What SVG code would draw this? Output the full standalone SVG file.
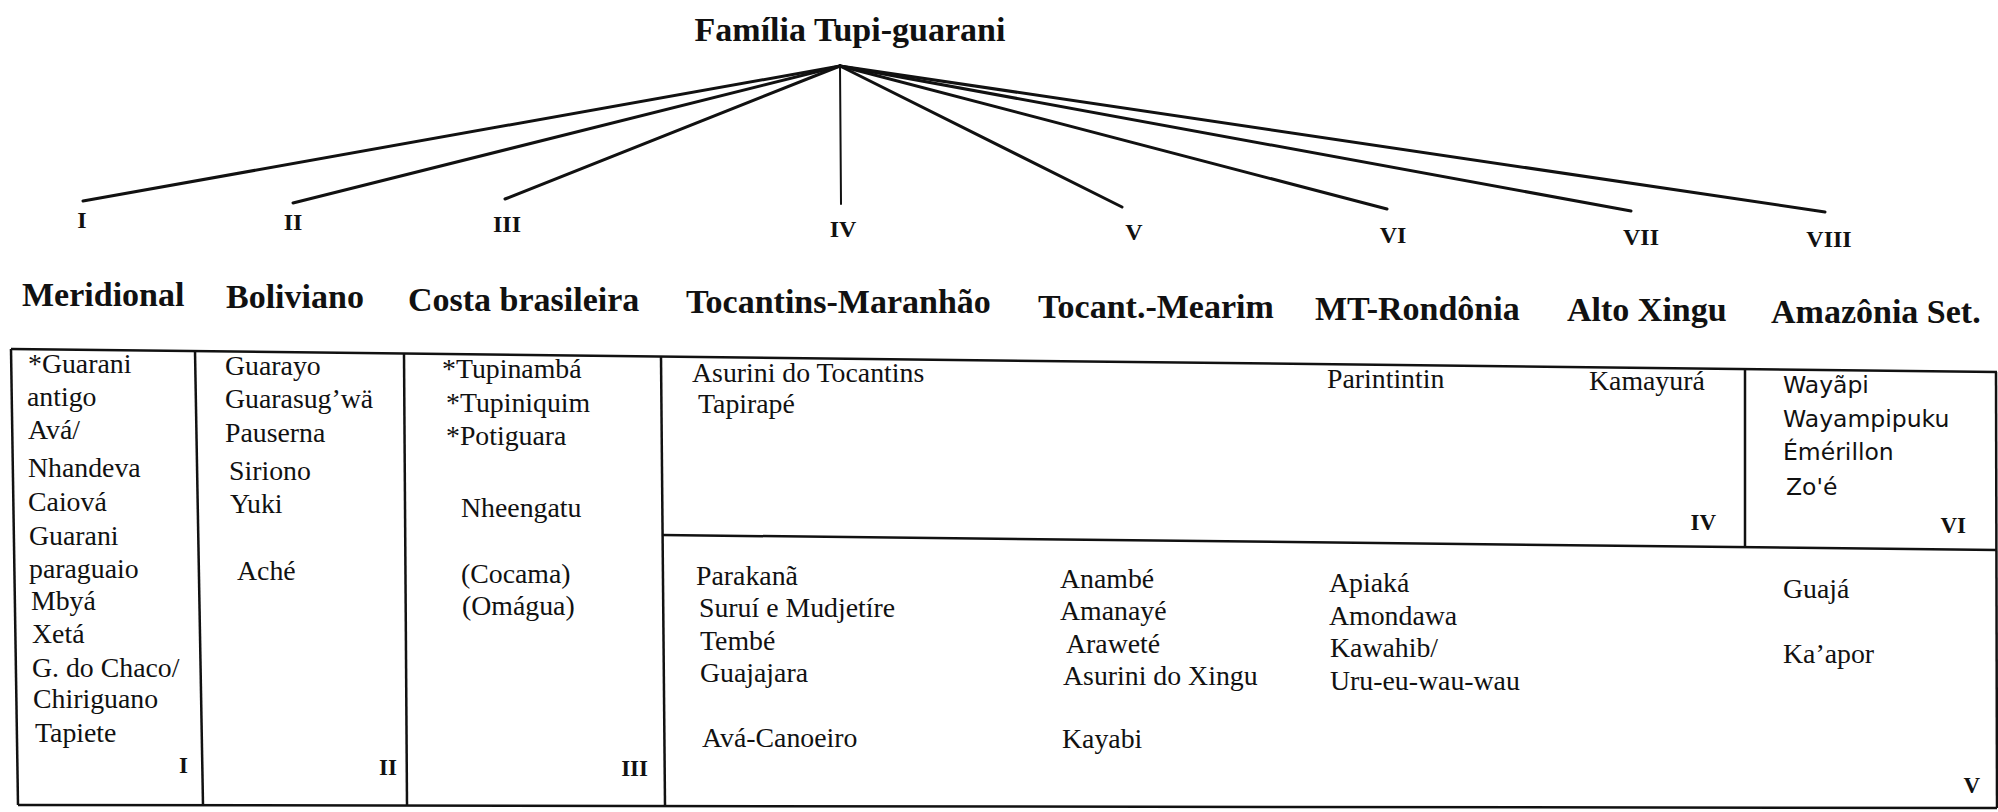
<svg xmlns="http://www.w3.org/2000/svg" width="1998" height="812" viewBox="0 0 1998 812">
<style>
text { font-family: "Liberation Serif", "Times New Roman", serif; fill: #111; }
.title { font-size: 34px; font-weight: bold; text-anchor: middle; }
.num { font-size: 24px; font-weight: bold; text-anchor: middle; }
.hdr { font-size: 34px; font-weight: bold; }
.t { font-size: 27.8px; }
.s { font-family: "DejaVu Sans", "Liberation Sans", sans-serif; font-size: 23.5px; }
.tn { font-size: 23px; font-weight: bold; text-anchor: end; }
.edge { stroke: #111; stroke-width: 3; fill: none; stroke-linecap: round; }
.grid { stroke: #111; stroke-width: 2.5; fill: none; }
</style>
<rect width="1998" height="812" fill="#ffffff"/>

<g id="root">
  <text class="title" x="850" y="41">Família Tupi-guarani</text>
</g>

<g id="connectors">
  <line class="edge" x1="840" y1="66" x2="83" y2="201"/>
  <line class="edge" x1="840" y1="66" x2="293" y2="203"/>
  <line class="edge" x1="840" y1="66" x2="505" y2="199"/>
  <line class="edge" x1="840" y1="66" x2="841" y2="204" style="stroke-width:2"/>
  <line class="edge" x1="840" y1="66" x2="1122" y2="207"/>
  <line class="edge" x1="840" y1="66" x2="1387" y2="209"/>
  <line class="edge" x1="840" y1="66" x2="1631" y2="211"/>
  <line class="edge" x1="840" y1="66" x2="1825" y2="212"/>
</g>

<g id="branch-I"><text class="num" x="82" y="228">I</text><text class="hdr" x="22" y="306">Meridional</text></g>
<g id="branch-II"><text class="num" x="293" y="230">II</text><text class="hdr" x="226" y="308">Boliviano</text></g>
<g id="branch-III"><text class="num" x="507" y="232">III</text><text class="hdr" x="408" y="311">Costa brasileira</text></g>
<g id="branch-IV"><text class="num" x="843" y="237">IV</text><text class="hdr" x="686" y="313">Tocantins-Maranhão</text></g>
<g id="branch-V"><text class="num" x="1134" y="240">V</text><text class="hdr" x="1038" y="318">Tocant.-Mearim</text></g>
<g id="branch-VI"><text class="num" x="1393" y="243">VI</text><text class="hdr" x="1315" y="320">MT-Rondônia</text></g>
<g id="branch-VII"><text class="num" x="1641" y="245">VII</text><text class="hdr" x="1567" y="321">Alto Xingu</text></g>
<g id="branch-VIII"><text class="num" x="1829" y="247">VIII</text><text class="hdr" x="1771" y="323">Amazônia Set.</text></g>

<g id="table-grid">
  <line class="grid" x1="11" y1="349" x2="1997" y2="372"/>
  <line class="grid" x1="18" y1="805" x2="1997" y2="808"/>
  <line class="grid" x1="11" y1="349" x2="18" y2="805"/>
  <line class="grid" x1="1996" y1="372" x2="1997" y2="808"/>
  <line class="grid" x1="195" y1="351" x2="203" y2="805"/>
  <line class="grid" x1="404" y1="354" x2="407" y2="805"/>
  <line class="grid" x1="661" y1="357" x2="665" y2="806"/>
  <line class="grid" x1="662" y1="535" x2="1997" y2="550"/>
  <line class="grid" x1="1745" y1="368" x2="1745" y2="548"/>
</g>

<g id="cell-I">
  <text class="t" x="28" y="373">*Guarani</text>
  <text class="t" x="27" y="406">antigo</text>
  <text class="t" x="28" y="439">Avá/</text>
  <text class="t" x="28" y="477">Nhandeva</text>
  <text class="t" x="28" y="511">Caiová</text>
  <text class="t" x="29" y="545">Guarani</text>
  <text class="t" x="29" y="578">paraguaio</text>
  <text class="t" x="31" y="610">Mbyá</text>
  <text class="t" x="32" y="643">Xetá</text>
  <text class="t" x="32" y="677">G. do Chaco/</text>
  <text class="t" x="33" y="708">Chiriguano</text>
  <text class="t" x="35" y="742">Tapiete</text>
  <text class="tn" x="188" y="773">I</text>
</g>

<g id="cell-II">
  <text class="t" x="225" y="375">Guarayo</text>
  <text class="t" x="225" y="408">Guarasug’wä</text>
  <text class="t" x="225" y="442">Pauserna</text>
  <text class="t" x="229" y="480">Siriono</text>
  <text class="t" x="230" y="513">Yuki</text>
  <text class="t" x="237" y="580">Aché</text>
  <text class="tn" x="397" y="775">II</text>
</g>

<g id="cell-III">
  <text class="t" x="442" y="378">*Tupinambá</text>
  <text class="t" x="446" y="412">*Tupiniquim</text>
  <text class="t" x="446" y="445">*Potiguara</text>
  <text class="t" x="461" y="517">Nheengatu</text>
  <text class="t" x="461" y="583">(Cocama)</text>
  <text class="t" x="462" y="615">(Omágua)</text>
  <text class="tn" x="648" y="776">III</text>
</g>

<g id="cell-IV">
  <text class="t" x="692" y="382">Asurini do Tocantins</text>
  <text class="t" x="698" y="413">Tapirapé</text>
  <text class="t" x="1327" y="388">Parintintin</text>
  <text class="t" x="1589" y="390">Kamayurá</text>
  <text class="tn" x="1716" y="530">IV</text>
</g>

<g id="cell-VI">
  <text class="s" x="1783" y="393">Wayãpi</text>
  <text class="s" x="1783" y="427">Wayampipuku</text>
  <text class="s" x="1783" y="460">Émérillon</text>
  <text class="s" x="1786" y="495">Zo'é</text>
  <text class="tn" x="1966" y="533">VI</text>
</g>

<g id="cell-V">
  <text class="t" x="696" y="585">Parakanã</text>
  <text class="t" x="699" y="617">Suruí e Mudjetíre</text>
  <text class="t" x="700" y="650">Tembé</text>
  <text class="t" x="700" y="682">Guajajara</text>
  <text class="t" x="702" y="747">Avá-Canoeiro</text>
  <text class="t" x="1060" y="588">Anambé</text>
  <text class="t" x="1060" y="620">Amanayé</text>
  <text class="t" x="1066" y="653">Araweté</text>
  <text class="t" x="1063" y="685">Asurini do Xingu</text>
  <text class="t" x="1062" y="748">Kayabi</text>
  <text class="t" x="1329" y="592">Apiaká</text>
  <text class="t" x="1329" y="625">Amondawa</text>
  <text class="t" x="1330" y="657">Kawahib/</text>
  <text class="t" x="1330" y="690">Uru-eu-wau-wau</text>
  <text class="t" x="1783" y="598">Guajá</text>
  <text class="t" x="1783" y="663">Ka’apor</text>
  <text class="tn" x="1980" y="793">V</text>
</g>
</svg>
